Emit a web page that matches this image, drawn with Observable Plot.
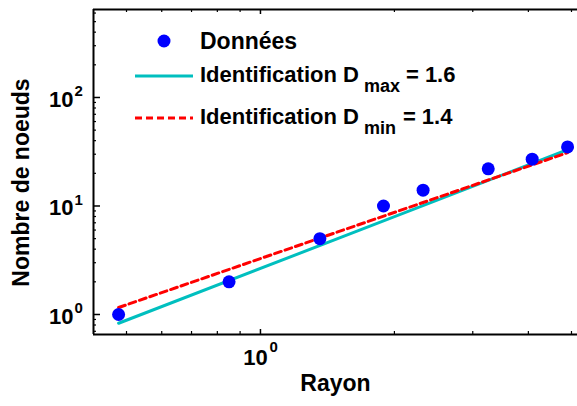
<!DOCTYPE html>
<html><head><meta charset="utf-8">
<script src="https://cdn.jsdelivr.net/npm/d3@7"></script>
<script src="https://cdn.jsdelivr.net/npm/@observablehq/plot@0.6"></script>
<style>
body{margin:0;background:#fff;}
#wrap{position:relative;width:577px;height:406px;font-family:"Liberation Sans",Arial,sans-serif;}
#wrap svg{display:block;}
#legend{position:absolute;left:0;top:0;pointer-events:none;}
</style></head><body><div id="wrap"></div>
<script>
// data
const rayon  = [0.48, 0.85, 1.36, 1.89, 2.32, 3.25, 4.08, 4.9];
const noeuds = [1, 2, 5, 10, 14, 22, 27, 35];
const fitX   = [0.48, 4.9];
const fitMax = [0.83, 33];   // D_max = 1.6
const fitMin = [1.16, 31];   // D_min = 1.4
const xDomain = [0.4215, 5.158];
const yDomain = [0.654, 647];
const yMajor = [1, 10, 100];
const yExp   = ["0", "1", "2"];
const yMinor = [0.7,0.8,0.9,2,3,4,5,6,7,8,9,20,30,40,50,60,70,80,90,200,300,400,500,600];
const xMajor = [1];
const xExp   = ["0"];
const xMinor = [0.5,0.6,0.7,0.8,0.9,2,3,4,5];
const xLabel = "Rayon";
const yLabel = "Nombre de noeuds";
const legendLabels = ["Données", "Identification D", "max", "= 1.6", "Identification D", "min", "= 1.4"];

const W = 577, H = 406, mL = 93, mR = 0, mT = 9, mB = 72;
const fw = W - mL - mR, fh = H - mT - mB;
const font = "Liberation Sans, Arial, sans-serif";

const pts = rayon.map((x, i) => ({x, y: noeuds[i]}));
const lMax = fitX.map((x, i) => ({x, y: fitMax[i]}));
const lMin = fitX.map((x, i) => ({x, y: fitMin[i]}));

const chart = Plot.plot({
  width: W, height: H,
  marginLeft: mL, marginRight: mR, marginTop: mT, marginBottom: mB,
  style: {fontFamily: font, background: "#fff"},
  x: {type: "log", domain: xDomain, axis: null},
  y: {type: "log", domain: yDomain, axis: null},
  marks: [
    Plot.line(lMax, {x: "x", y: "y", stroke: "#00BFBF", strokeWidth: 3}),
    Plot.line(lMin, {x: "x", y: "y", stroke: "#FF0000", strokeWidth: 3, strokeDasharray: "7,4"}),
    Plot.dot(pts, {x: "x", y: "y", r: 6.5, fill: "#0000FF", stroke: "none"}),
    // inward ticks
    Plot.tickY(yMajor, {y: d => d, insetRight: fw - 7, stroke: "#000", strokeWidth: 1.5}),
    Plot.tickY(yMinor, {y: d => d, insetRight: fw - 3, stroke: "#000", strokeWidth: 1.2}),
    Plot.tickX(xMajor, {x: d => d, insetTop: fh - 5, stroke: "#000", strokeWidth: 1.5}),
    Plot.tickX(xMinor, {x: d => d, insetTop: fh - 3, stroke: "#000", strokeWidth: 1.2}),
    Plot.tickX(xMajor, {x: d => d, insetBottom: fh - 5, stroke: "#000", strokeWidth: 1.5}),
    Plot.tickX(xMinor, {x: d => d, insetBottom: fh - 3, stroke: "#000", strokeWidth: 1.2}),
    // frame (left, top, bottom)
    Plot.ruleX([xDomain[0]], {stroke: "#000", strokeWidth: 2}),
    Plot.ruleY([yDomain[0], yDomain[1]], {stroke: "#000", strokeWidth: 2}),
    // tick labels
    Plot.text(yMajor, {y: d => d, text: () => "10", frameAnchor: "left", textAnchor: "end", dx: -20, dy: 2, fontSize: 22, fontWeight: "bold", fontFamily: font}),
    Plot.text(yMajor, {y: d => d, text: (d, i) => yExp[i], frameAnchor: "left", textAnchor: "start", dx: -19, dy: -6, fontSize: 15, fontWeight: "bold", fontFamily: font}),
    Plot.text(xMajor, {x: d => d, text: () => "10", frameAnchor: "bottom", textAnchor: "middle", dx: -5, dy: 30, fontSize: 22, fontWeight: "bold", fontFamily: font}),
    Plot.text(xMajor, {x: d => d, text: (d, i) => xExp[i], frameAnchor: "bottom", textAnchor: "start", dx: 9, dy: 17, fontSize: 15, fontWeight: "bold", fontFamily: font}),
    // axis labels
    Plot.text([xLabel], {frameAnchor: "bottom", textAnchor: "middle", dy: 56, fontSize: 23, fontWeight: "bold", fontFamily: font}),
    Plot.text([yLabel], {frameAnchor: "left", textAnchor: "middle", dx: -72, dy: 10.5, rotate: -90, fontSize: 23, fontWeight: "bold", fontFamily: font})
  ]
});
const wrap = document.getElementById("wrap");
wrap.appendChild(chart);

// legend overlay (inside the plot area, as in the original)
const svg = d3.select(wrap).append("svg").attr("id", "legend").attr("width", W).attr("height", H)
  .style("font-family", font).style("font-weight", "bold");
svg.append("circle").attr("cx", 164).attr("cy", 41).attr("r", 6.5).attr("fill", "#0000FF");
svg.append("text").attr("x", 200).attr("y", 49).attr("font-size", 23).text(legendLabels[0]);
svg.append("line").attr("x1", 135).attr("x2", 193).attr("y1", 76).attr("y2", 76).attr("stroke", "#00BFBF").attr("stroke-width", 3);
const t2 = svg.append("text").attr("x", 200).attr("y", 82).attr("font-size", 22);
t2.append("tspan").text(legendLabels[1]);
t2.append("tspan").attr("dy", 10).attr("dx", 5).attr("font-size", 18).text(legendLabels[2]);
t2.append("tspan").attr("dy", -10).attr("dx", 6).text(legendLabels[3]);
svg.append("line").attr("x1", 135).attr("x2", 193).attr("y1", 118).attr("y2", 118).attr("stroke", "#FF0000").attr("stroke-width", 3).attr("stroke-dasharray", "7,4");
const t3 = svg.append("text").attr("x", 200).attr("y", 124).attr("font-size", 22);
t3.append("tspan").text(legendLabels[4]);
t3.append("tspan").attr("dy", 10).attr("dx", 5).attr("font-size", 18).text(legendLabels[5]);
t3.append("tspan").attr("dy", -10).attr("dx", 7).text(legendLabels[6]);
</script></body></html>
